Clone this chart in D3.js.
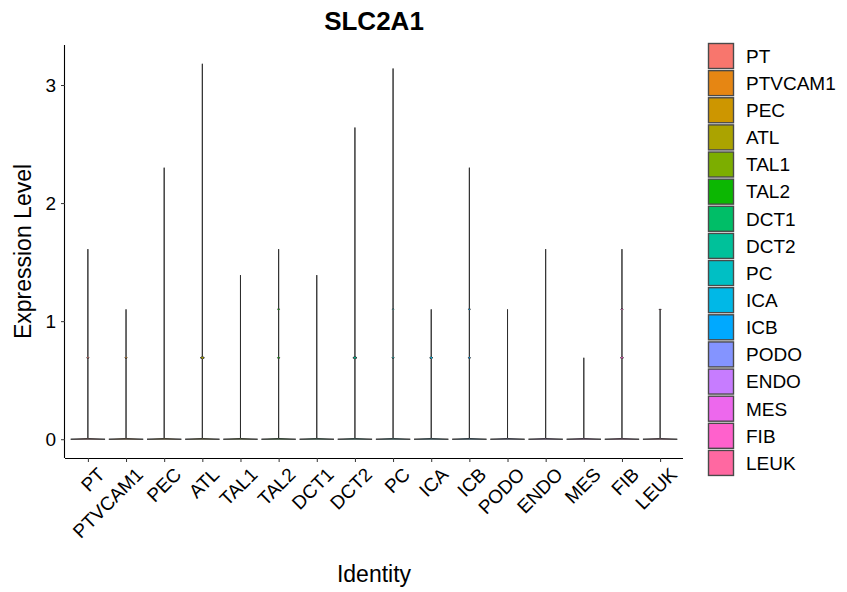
<!DOCTYPE html>
<html>
<head>
<meta charset="utf-8">
<script src="https://cdn.jsdelivr.net/npm/d3@7"></script>
<style>
  body { margin: 0; background: #fff; }
  text { font-family: "Liberation Sans", Arial, sans-serif; fill: #000; }
</style>
</head>
<body>
<svg id="chart" width="847" height="592"></svg>
<script>
// Cell-type identities (x categories)
const categories = ["PT", "PTVCAM1", "PEC", "ATL", "TAL1", "TAL2", "DCT1", "DCT2",
                    "PC", "ICA", "ICB", "PODO", "ENDO", "MES", "FIB", "LEUK"];
// Highest log-normalised expression per identity (violin top)
const maxLevel = [1.61, 1.10, 2.30, 3.18, 1.39, 1.61, 1.39, 2.64,
                  3.14, 1.10, 2.30, 1.10, 1.61, 0.69, 1.61, 1.10];
// Relative violin width at the two small density bumps (levels 0.69 and 1.10)
const bumpLevels = [0.69, 1.10];
const bumpAt069 = [0.06, 0.06, 0, 0.12, 0, 0.06, 0, 0.12, 0.06, 0.09, 0.06, 0, 0, 0, 0.09, 0];
const bumpAt110 = [0, 0, 0, 0, 0, 0.05, 0, 0, 0.04, 0, 0.05, 0, 0, 0, 0.06, 0.06];
// Discrete hue palette
const colors = ["#F8766D", "#E68613", "#CD9600", "#ABA300", "#7CAE00", "#0CB702", "#00BE67", "#00C19A",
                "#00BFC4", "#00B8E7", "#00A9FF", "#8494FF", "#C77CFF", "#ED68ED", "#FF61CC", "#FF68A1"];
const yTicks = [0, 1, 2, 3];

const svg = d3.select("#chart");
const panel = { left: 65, right: 683, top: 45, bottom: 458 };

// discrete scale with 0.6 unit padding on each side
const x = d3.scalePoint().domain(categories)
  .range([panel.left, panel.right]).padding(0.6);
const step = x.step();

const yMax = d3.max(maxLevel), yMin = 0;
const pad = (yMax - yMin) * 0.05;
const y = d3.scaleLinear().domain([yMin - pad, yMax + pad]).range([panel.bottom, panel.top]);

const color = d3.scaleOrdinal().domain(categories).range(colors);

// violins
const half = step * 0.9 / 2;
const eps = 0.006;
const area = d3.area()
  .x0(d => d.cx - d.w * half)
  .x1(d => d.cx + d.w * half)
  .y(d => y(d.v));

categories.forEach((c, i) => {
  const cx = x(c);
  const top = maxLevel[i];
  const pts = [{ v: 0, w: 1 }, { v: eps, w: 0.02 }, { v: eps * 1.5, w: 0 }];
  const bumps = [bumpAt069[i], bumpAt110[i]];
  bumpLevels.forEach((b, j) => {
    if (bumps[j] > 0 && b <= top + 1e-9) {
      pts.push({ v: b - eps * 2, w: 0 });
      pts.push({ v: b, w: bumps[j] });
      if (b + eps * 2 < top) pts.push({ v: b + eps * 2, w: 0 });
    }
  });
  if (pts[pts.length - 1].v < top) pts.push({ v: top, w: 0 });
  pts.forEach(p => p.cx = cx);
  svg.append("path")
    .attr("d", area(pts))
    .attr("fill", color(c))
    .attr("stroke", "#2a2a2a")
    .attr("stroke-width", 0.9);
});

// axes
const xAxis = d3.axisBottom(x).tickSize(4).tickSizeOuter(0).tickPadding(3);
const yAxis = d3.axisLeft(y).tickValues(yTicks).tickFormat(d3.format("d"))
  .tickSize(4).tickSizeOuter(0).tickPadding(5);

const gx = svg.append("g").attr("transform", `translate(0,${panel.bottom})`).call(xAxis);
gx.select(".domain").attr("d", `M${panel.left},0.5H${panel.right}`).attr("stroke", "#000").attr("stroke-width", 1.1);
gx.selectAll(".tick line").attr("stroke", "#333").attr("stroke-width", 1);
gx.selectAll(".tick text")
  .attr("font-size", 19)
  .attr("fill", "#222")
  .attr("text-anchor", "end")
  .attr("dy", "0.72em")
  .attr("transform", d => `translate(8,8) rotate(-45)`)
  .attr("y", 0).attr("x", 0);

const gy = svg.append("g").attr("transform", `translate(${panel.left},0)`).call(yAxis);
gy.select(".domain").attr("d", `M-0.5,${panel.top}V${panel.bottom}`).attr("stroke", "#000").attr("stroke-width", 1.1);
gy.selectAll(".tick line").attr("stroke", "#333").attr("stroke-width", 1);
gy.selectAll(".tick text").attr("font-size", 19).attr("fill", "#222");

// titles
svg.append("text").attr("x", (panel.left + panel.right) / 2).attr("y", 30)
  .attr("text-anchor", "middle").attr("font-weight", "bold").attr("font-size", 26)
  .text("SLC2A1");
svg.append("text").attr("x", (panel.left + panel.right) / 2).attr("y", 582)
  .attr("text-anchor", "middle").attr("font-size", 23).text("Identity");
svg.append("text")
  .attr("transform", `translate(31,${(panel.top + panel.bottom) / 2}) rotate(-90)`)
  .attr("text-anchor", "middle").attr("font-size", 23).text("Expression Level");

// legend
const legStep = 27.13, legTop = 56;
const leg = svg.append("g");
categories.forEach((c, i) => {
  const cy = legTop + i * legStep;
  leg.append("rect").attr("x", 708.5).attr("y", cy - 12.5).attr("width", 25).attr("height", 25)
    .attr("fill", color(c)).attr("stroke", "#4a4a4a").attr("stroke-width", 1.4);
  leg.append("text").attr("x", 746).attr("y", cy).attr("dy", "0.36em")
    .attr("font-size", 19).text(c);
});
</script>
</body>
</html>
